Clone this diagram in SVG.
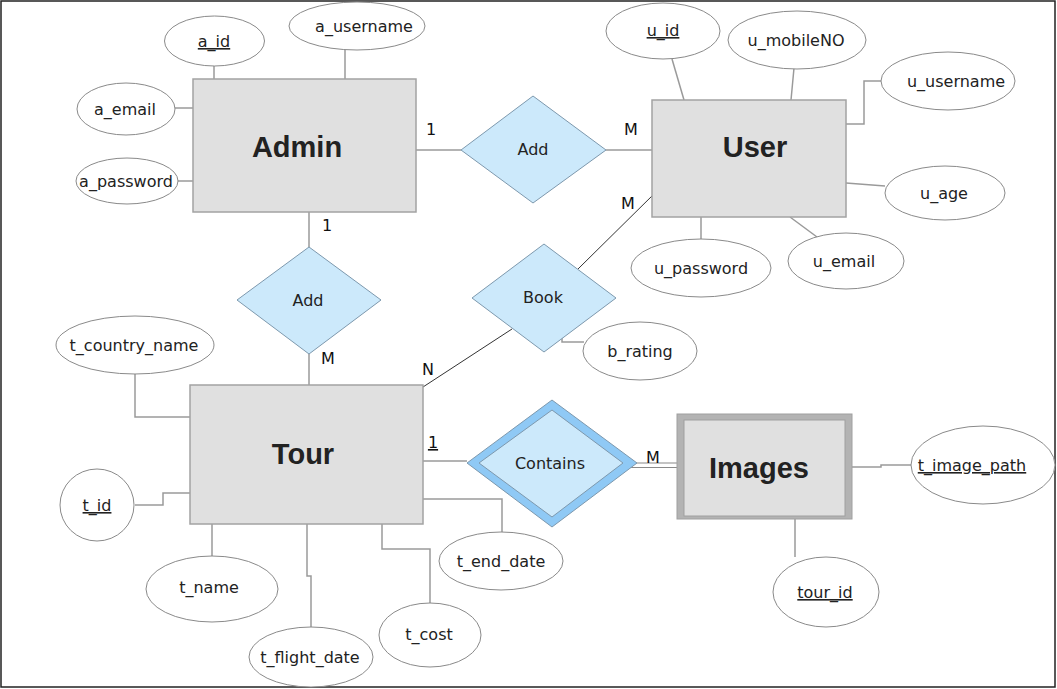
<svg xmlns="http://www.w3.org/2000/svg" width="1057" height="689" viewBox="0 0 1057 689">
<style>
.ent{fill:#e0e0e0;stroke:#a3a3a3;stroke-width:1.5}
.attr{fill:#fff;stroke:#8a8a8a;stroke-width:1}
.rel{fill:#cce9fb;stroke:#7d98ad;stroke-width:1}
.ln{fill:none;stroke:#9a9a9a;stroke-width:1.5}
.dk{fill:none;stroke:#333;stroke-width:1}
.t{font-family:"DejaVu Sans",Verdana,sans-serif;font-size:16px;fill:#222;text-anchor:middle}
.u{text-decoration:underline}
.et{font-family:"Liberation Sans",Arial,sans-serif;font-weight:bold;font-size:29px;fill:#222;text-anchor:middle}
.c{font-family:"DejaVu Sans",Verdana,sans-serif;font-size:16px;fill:#111;text-anchor:middle}
</style>
<rect x="0" y="0" width="1057" height="689" fill="#fff"/>
<rect x="1" y="1" width="1054" height="686" fill="none" stroke="#222" stroke-width="1.5"/>

<g id="connectors">
<line class="ln" x1="214" y1="66" x2="214" y2="79"/>
<line class="ln" x1="345" y1="50" x2="345" y2="79"/>
<line class="ln" x1="175" y1="108" x2="193" y2="108"/>
<line class="ln" x1="177" y1="181" x2="193" y2="181"/>
<line class="ln" x1="416" y1="150" x2="461" y2="150"/>
<line class="ln" x1="606" y1="150" x2="652" y2="150"/>
<line class="ln" x1="672" y1="59" x2="684" y2="100"/>
<line class="ln" x1="794" y1="68" x2="791" y2="100"/>
<polyline class="ln" points="846,124 864,124 864,81 882,81"/>
<line class="ln" x1="846" y1="183" x2="885" y2="186"/>
<line class="ln" x1="790" y1="217" x2="817" y2="237"/>
<line class="ln" x1="701" y1="217" x2="701" y2="239"/>
<line class="dk" x1="578" y1="269" x2="656" y2="192"/>
<line class="dk" x1="512" y1="329" x2="423" y2="387"/>
<polyline class="ln" points="562,337 562,342 584,342"/>
<line class="ln" x1="309" y1="212" x2="309" y2="247"/>
<line class="ln" x1="309" y1="354" x2="309" y2="385"/>
<polyline class="ln" points="135,374 135,417 190,417"/>
<polyline class="ln" points="135,505 163,505 163,493 190,493"/>
<line class="ln" x1="212" y1="524" x2="212" y2="556"/>
<polyline class="ln" points="307,524 307,576 311,576 311,627"/>
<polyline class="ln" points="382,524 382,549 430,549 430,603"/>
<polyline class="ln" points="423,499 502,499 502,532"/>
<line class="ln" x1="423" y1="461" x2="467" y2="461"/>
<line x1="628" y1="463" x2="684" y2="463" stroke="#8a8a8a" stroke-width="1.2"/>
<line x1="628" y1="467.5" x2="684" y2="467.5" stroke="#8a8a8a" stroke-width="1.2"/>
<polyline class="ln" points="852,467 881,467 881,465 912,465"/>
<line class="ln" x1="795" y1="519" x2="795" y2="557"/>
<text class="c" x="431" y="135">1</text>
<text class="c" x="631" y="135">M</text>
<text class="c" x="628" y="209">M</text>
<text class="c" x="327" y="231">1</text>
<text class="c" x="328" y="364">M</text>
<text class="c" x="428" y="375">N</text>
<text class="c u" x="433" y="448">1</text>
<text class="c" x="653" y="463">M</text>
</g>

<g id="admin">
<rect class="ent" x="193" y="79" width="223" height="133"/>
<text class="et" x="297" y="157">Admin</text>
</g>
<g id="a_id"><ellipse class="attr" cx="214.5" cy="41" rx="50" ry="25"/><text class="t u" x="214" y="47">a_id</text></g>
<g id="a_username"><ellipse class="attr" cx="357" cy="26" rx="68" ry="24"/><text class="t" x="364" y="32">a_username</text></g>
<g id="a_email"><ellipse class="attr" cx="126" cy="109" rx="49" ry="26"/><text class="t" x="125" y="115">a_email</text></g>
<g id="a_password"><ellipse class="attr" cx="127" cy="181" rx="51" ry="23"/><text class="t" x="126" y="187">a_password</text></g>

<g id="rel_add_user">
<polygon class="rel" points="461,150 533,96 606,150 533,203"/>
<text class="t" x="533" y="155" fill="#333">Add</text>
</g>

<g id="user">
<rect class="ent" x="652" y="100" width="194" height="117"/>
<text class="et" x="755" y="157">User</text>
</g>
<g id="u_id"><ellipse class="attr" cx="663" cy="31" rx="57" ry="28"/><text class="t u" x="663" y="36">u_id</text></g>
<g id="u_mobileNO"><ellipse class="attr" cx="797" cy="40" rx="69" ry="29"/><text class="t" x="796" y="46">u_mobileNO</text></g>
<g id="u_username"><ellipse class="attr" cx="948" cy="81" rx="67" ry="29"/><text class="t" x="956" y="87">u_username</text></g>
<g id="u_age"><ellipse class="attr" cx="945" cy="193" rx="60" ry="27"/><text class="t" x="944" y="199">u_age</text></g>
<g id="u_email"><ellipse class="attr" cx="846" cy="261" rx="58" ry="28"/><text class="t" x="844" y="267">u_email</text></g>
<g id="u_password"><ellipse class="attr" cx="701" cy="268" rx="70" ry="29"/><text class="t" x="701" y="274">u_password</text></g>

<g id="rel_book">
<polygon class="rel" points="472,298 544,244 616,298 544,352"/>
<text class="t" x="543" y="303" fill="#333">Book</text>
</g>
<g id="b_rating"><ellipse class="attr" cx="640" cy="351" rx="57" ry="29"/><text class="t" x="640" y="357">b_rating</text></g>

<g id="rel_add_tour">
<polygon class="rel" points="237,300 309,247 381,300 309,354"/>
<text class="t" x="308" y="306" fill="#333">Add</text>
</g>

<g id="tour">
<rect class="ent" x="190" y="385" width="233" height="139"/>
<text class="et" x="303" y="464">Tour</text>
</g>
<g id="t_country_name"><ellipse class="attr" cx="135" cy="345" rx="79" ry="29"/><text class="t" x="134" y="351">t_country_name</text></g>
<g id="t_id"><ellipse class="attr" cx="97" cy="505" rx="37" ry="36"/><text class="t u" x="97" y="511">t_id</text></g>
<g id="t_name"><ellipse class="attr" cx="212" cy="589" rx="66" ry="33"/><text class="t" x="209" y="593">t_name</text></g>
<g id="t_flight_date"><ellipse class="attr" cx="311" cy="657" rx="62" ry="30"/><text class="t" x="310" y="663">t_flight_date</text></g>
<g id="t_cost"><ellipse class="attr" cx="430" cy="635" rx="51" ry="32"/><text class="t" x="429" y="640">t_cost</text></g>
<g id="t_end_date"><ellipse class="attr" cx="501" cy="561" rx="62" ry="29"/><text class="t" x="501" y="567">t_end_date</text></g>

<g id="rel_contains">
<polygon points="467,463 552,400 637,463 552,527" fill="#8fc9f5" stroke="#7d98ad" stroke-width="1"/>
<polygon points="479,463 552,410 623,463 552,517" fill="#cce9fb" stroke="#7d98ad" stroke-width="1"/>
<text class="t" x="550" y="469" fill="#333">Contains</text>
</g>

<g id="images">
<rect x="677" y="414" width="175" height="105" fill="#b3b3b3" stroke="#a0a0a0" stroke-width="1"/>
<rect x="684" y="420" width="161" height="96" fill="#e0e0e0" stroke="#a0a0a0" stroke-width="1"/>
<text class="et" x="759" y="478">Images</text>
</g>
<g id="t_image_path"><ellipse class="attr" cx="983" cy="465" rx="72" ry="39"/><text class="t u" x="972" y="471">t_image_path</text></g>
<g id="tour_id"><ellipse class="attr" cx="826" cy="592" rx="53" ry="35"/><text class="t u" x="825" y="598">tour_id</text></g>
</svg>
